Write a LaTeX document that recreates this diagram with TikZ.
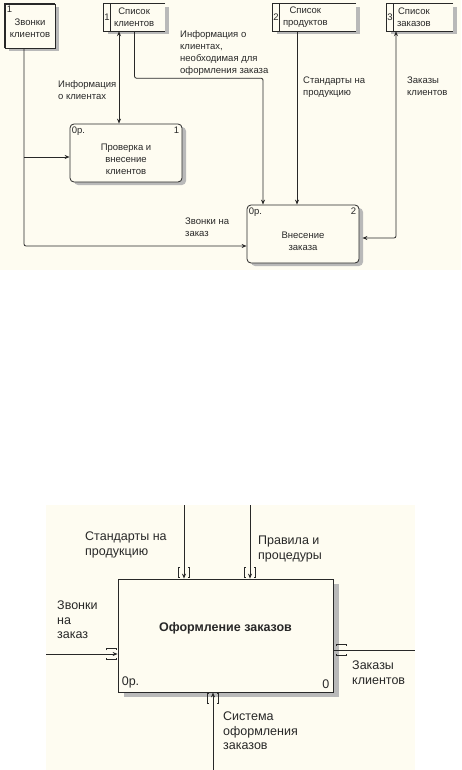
\documentclass[tikz,border=0pt]{standalone}
\usepackage{fontspec}
\setmainfont{Liberation Sans}
\usetikzlibrary{positioning,shadows,arrows.meta}

\definecolor{fon}{RGB}{254,252,241}
\definecolor{liniya}{RGB}{40,40,40}

\tikzset{
	tunnel/.pic={
		\draw[liniya, line width=0.6pt] (-4,-5) -- (-5.5,-5) -- (-5.5,5) -- (-4,5);
		\draw[liniya, line width=0.6pt] (4,-5) -- (5.5,-5) -- (5.5,5) -- (4,5);
	}
}

\begin{document}
\begin{tikzpicture}[x=1pt, y=-1pt, >={Stealth[length=5pt,width=4pt]},
	every node/.style={inner sep=0pt, text=liniya},
	ten/.style={drop shadow={shadow xshift=4pt, shadow yshift=-3pt, fill=gray!55, opacity=1}},
	melko/.style={font=\fontsize{9.5}{12}\selectfont},
	krupno/.style={font=\fontsize{12.5}{14.5}\selectfont},
	blok/.style={draw=liniya, line width=0.8pt, fill=fon, rounded corners=4pt,
		minimum width=112pt, minimum height=58pt, ten},
	hranilishe/.style={fill=fon, minimum height=27pt, ten},
	podpis/.style={anchor=north west, align=left, melko},
	podpis2/.style={anchor=north west, align=left, krupno},
	strelka/.style={draw=liniya, line width=0.8pt, rounded corners=2pt}]
	
	% --- фон и рамка ---
	\fill[fon] (0,0) rectangle (461,270);
	\fill[fon] (46,505) rectangle (415,770);
	\coordinate (ramka_nw) at (46,505);
	\coordinate (ramka_se) at (415,770);
	\useasboundingbox (0,0) rectangle (461,770);
	
	% --- ВЕРХНЯЯ ДИАГРАММА ---
	% внешняя сущность
	\node[draw=liniya, line width=0.8pt, fill=fon, minimum width=50pt, minimum height=44pt, ten] (zvonki) at (30,26) {};
	\draw[liniya, line width=2pt] (zvonki.south west) -- (zvonki.north west) -- (zvonki.north east);
	\node[melko, align=center] (zvonki_t) at ([yshift=-2pt]zvonki.center) {Звонки\\клиентов};
	\node[melko, anchor=north west] (zvonki_n) at ([xshift=2pt,yshift=-2pt]zvonki.north west) {1};
	
	% хранилища данных
	\node[hranilishe, minimum width=61pt] (klienty) at (134.5,17.5) {};
	\node[hranilishe, minimum width=83pt] (produkty) at (314.5,17.5) {};
	\node[hranilishe, minimum width=66pt] (zakazy) at (420,17.5) {};
	\foreach \hr/\nom/\txt in {klienty/1/клиентов, produkty/2/продуктов, zakazy/3/заказов}{
		\draw[liniya, line width=0.8pt] (\hr.north east) -- (\hr.north west) -- (\hr.south west) -- (\hr.south east);
		\draw[liniya, line width=0.8pt] ([xshift=6.5pt]\hr.north west) -- ([xshift=6.5pt]\hr.south west);
		\node[melko] (\hr_n) at ([xshift=3.2pt]\hr.west) {\nom};
		\node[melko, align=center, anchor=west] (\hr_t) at ([xshift=10pt]\hr.west) {Список\\\txt};
	}
	
	% процессы
	\node[blok] (proverka) at (126,153) {};
	\node[melko, align=center] (proverka_t) at ([yshift=-6pt]proverka.center) {Проверка и\\внесение\\клиентов};
	\node[melko, anchor=north west] (proverka_op) at ([xshift=2pt,yshift=-3pt]proverka.north west) {0р.};
	\node[melko, anchor=north east] (proverka_n) at ([xshift=-3pt,yshift=-3pt]proverka.north east) {1};
	
	\node[blok] (vnesenie) at (303,234) {};
	\node[melko, align=center] (vnesenie_t) at ([yshift=-7pt]vnesenie.center) {Внесение\\заказа};
	\node[melko, anchor=north west] (vnesenie_op) at ([xshift=2pt,yshift=-3pt]vnesenie.north west) {0р.};
	\node[melko, anchor=north east] (vnesenie_n) at ([xshift=-3pt,yshift=-3pt]vnesenie.north east) {2};
	
	% стрелки
	\coordinate (z_out) at ([xshift=-6pt]zvonki.south);
	\coordinate (v_in) at ([yshift=-12pt]vnesenie.west);
	\coordinate (p_in) at ([yshift=-4pt]proverka.west);
	\draw[strelka, ->] (z_out) |- (v_in);
	\draw[strelka, ->] (z_out |- p_in) -- (p_in);
	
	\coordinate (k_out) at ([xshift=-15.5pt]klienty.south);
	\draw[strelka, <->] (k_out) -- (k_out |- proverka.north);
	
	\coordinate (v_top1) at ([xshift=-40pt]vnesenie.north);
	\draw[strelka, ->] (klienty.south) -- ++(0,47) -| (v_top1);
	
	\coordinate (pr_out) at ([xshift=-17.5pt]produkty.south);
	\draw[strelka, ->] (pr_out) -- (pr_out |- vnesenie.north);
	
	\coordinate (zk_in) at ([xshift=-24pt]zakazy.south);
	\coordinate (v_out) at ([yshift=-4pt]vnesenie.east);
	\draw[strelka, <->, shorten <=3pt] (v_out) -| (zk_in);
	
	% подписи
	\node[podpis] (l_info) at (58,80) {Информация\\о клиентах};
	\node[podpis] (l_info2) at (180,30) {Информация о\\клиентах,\\необходимая для\\оформления заказа};
	\node[podpis] (l_stand) at (303,77) {Стандарты на\\продукцию};
	\node[podpis] (l_zakazy) at (407,77) {Заказы\\клиентов};
	\node[podpis] (l_zvonki) at (185,218) {Звонки на\\заказ};
	
	% --- НИЖНЯЯ ДИАГРАММА ---
	\node[draw=liniya, line width=0.8pt, fill=fon, minimum width=215pt, minimum height=113pt,
		drop shadow={shadow xshift=6pt, shadow yshift=-5pt, fill=gray!55, opacity=1}] (oformlenie) at (225.5,635.5) {};
	\node[font=\fontsize{12.5}{14.5}\selectfont\bfseries] (oformlenie_t) at ([yshift=7.5pt]oformlenie.center) {Оформление заказов};
	\node[krupno, anchor=south west] (oformlenie_op) at ([xshift=4pt,yshift=4pt]oformlenie.south west) {0р.};
	\node[krupno, anchor=south east] (oformlenie_n) at ([xshift=-4pt,yshift=4pt]oformlenie.south east) {0};
	
	\coordinate (upr1) at ([xshift=-41.5pt]oformlenie.north);
	\coordinate (upr2) at ([xshift=24.5pt]oformlenie.north);
	\coordinate (mekh) at ([xshift=-12.5pt]oformlenie.south);
	\coordinate (vkhod) at ([yshift=-18.5pt]oformlenie.west);
	\coordinate (vykhod) at ([yshift=-14.5pt]oformlenie.east);
	
	\draw[strelka, ->] (upr1 |- ramka_nw) -- (upr1);
	\draw[strelka, ->] (upr2 |- ramka_nw) -- (upr2);
	\draw[strelka, ->] (mekh |- ramka_se) -- (mekh);
	\draw[strelka, ->] (vkhod -| ramka_nw) -- (vkhod);
	\draw[strelka] (vykhod) -- (vykhod -| ramka_se);
	
	\pic at ([yshift=6pt]upr1) {tunnel};
	\pic at ([yshift=6pt]upr2) {tunnel};
	\pic at ([yshift=-6pt]mekh) {tunnel};
	\pic[rotate=90] at ([xshift=-6pt]vkhod) {tunnel};
	\pic[rotate=90] at ([xshift=8pt]vykhod) {tunnel};
	
	\node[podpis2] (l_stand2) at (85,532) {Стандарты на\\продукцию};
	\node[podpis2] (l_pravila) at (258,536) {Правила и\\процедуры};
	\node[podpis2] (l_zvonki2) at (57,601) {Звонки\\на\\заказ};
	\node[podpis2] (l_zakazy2) at (352,661) {Заказы\\клиентов};
	\node[podpis2] (l_sistema) at (223,712) {Система\\оформления\\заказов};
\end{tikzpicture}
\end{document}
